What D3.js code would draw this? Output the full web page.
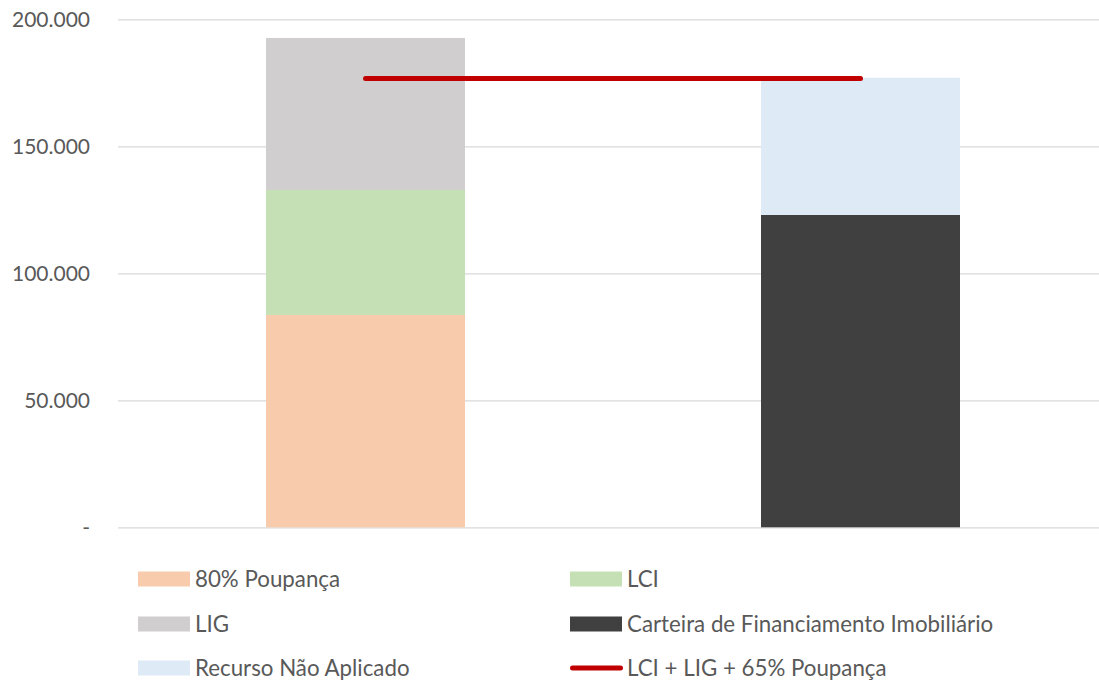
<!DOCTYPE html>
<html>
<head>
<meta charset="utf-8">
<script src="https://cdn.jsdelivr.net/npm/d3@7"></script>
<style>
  html, body { margin: 0; padding: 0; background: #fff; }
  svg { display: block; }
  text { font-family: Lato, "Open Sans", sans-serif; fill: #595959; }
</style>
</head>
<body>
<svg id="chart" width="1099" height="681"></svg>
<script>
// Categories (x axis, unlabeled groups)
const categories = ["Fontes", "Usos"];

// Stacked series, one value per category
const seriesNames = ["80% Poupança", "LCI", "LIG", "Carteira de Financiamento Imobiliário", "Recurso Não Aplicado"];
const poupanca80 = [83600, 0];
const lci        = [49200, 0];
const lig        = [59850, 0];
const carteira   = [0, 123000];
const naoAplicado = [0, 54000];

// Line series
const lineName = "LCI + LIG + 65% Poupança";
const lineValues = [176700, 176700];

// Y axis ticks
const yTicks = [0, 50000, 100000, 150000, 200000];

const colors = ["#f8cbad", "#c5e0b4", "#d0cece", "#404040", "#deebf7"];
const lineColor = "#c00000";

const svg = d3.select("#chart");

const plot = { left: 118, right: 1108, top: 19.3, bottom: 527.3 };

const x = d3.scaleBand()
  .domain(categories)
  .range([plot.left, plot.right])
  .paddingInner(0.598)
  .paddingOuter(0.299);

const y = d3.scaleLinear()
  .domain([0, 200000])
  .range([plot.bottom, plot.top]);

const locale = d3.formatLocale({ decimal: ",", thousands: ".", grouping: [3], currency: ["R$", ""] });
const fmt = locale.format(",.0f");

// Gridlines + tick labels
const yAxis = d3.axisLeft(y)
  .tickValues(yTicks)
  .tickSize(-(plot.right - plot.left))
  .tickPadding(28)
  .tickFormat(d => d === 0 ? "-" : fmt(d));

const gy = svg.append("g")
  .attr("transform", `translate(${plot.left},0)`)
  .call(yAxis);
gy.select(".domain").remove();
gy.selectAll(".tick line").attr("stroke", "#d9d9d9").attr("stroke-width", 1.3);
gy.selectAll(".tick text")
  .attr("fill", "#595959")
  .style("font-size", "21px");

// Stacked bars
const seriesData = [poupanca80, lci, lig, carteira, naoAplicado];
const rows = categories.map((c, i) => {
  const r = { category: c };
  seriesNames.forEach((s, k) => r[s] = seriesData[k][i]);
  return r;
});
const stack = d3.stack().keys(seriesNames)(rows);

svg.append("g").selectAll("g")
  .data(stack)
  .join("g")
  .attr("fill", (d, k) => colors[k])
  .selectAll("rect")
  .data(d => d.filter(p => p[1] - p[0] > 0))
  .join("rect")
  .attr("x", p => x(p.data.category))
  .attr("width", x.bandwidth())
  .attr("y", p => y(p[1]))
  .attr("height", p => y(p[0]) - y(p[1]));

// Line series
const line = d3.line()
  .x((d, i) => x(categories[i]) + x.bandwidth() / 2)
  .y(d => y(d));

svg.append("path")
  .datum(lineValues)
  .attr("d", line)
  .attr("fill", "none")
  .attr("stroke", lineColor)
  .attr("stroke-width", 5)
  .attr("stroke-linecap", "round");

// Legend: two columns, three rows
const legendItems = [
  { name: seriesNames[0], color: colors[0], type: "rect" },
  { name: seriesNames[1], color: colors[1], type: "rect" },
  { name: seriesNames[2], color: colors[2], type: "rect" },
  { name: seriesNames[3], color: colors[3], type: "rect" },
  { name: seriesNames[4], color: colors[4], type: "rect" },
  { name: lineName, color: lineColor, type: "line" }
];
const colX = [138, 570];
const rowY = [579, 624, 668];

const lg = svg.append("g").selectAll("g")
  .data(legendItems)
  .join("g")
  .attr("transform", (d, i) => `translate(${colX[i % 2]},${rowY[Math.floor(i / 2)]})`);

lg.filter(d => d.type === "rect").append("rect")
  .attr("x", 0).attr("y", -7.5)
  .attr("width", 52).attr("height", 15)
  .attr("fill", d => d.color);

lg.filter(d => d.type === "line").append("line")
  .attr("x1", 2.5).attr("x2", 50.5)
  .attr("y1", 0).attr("y2", 0)
  .attr("stroke", d => d.color)
  .attr("stroke-width", 5)
  .attr("stroke-linecap", "round");

lg.append("text")
  .attr("x", 57)
  .attr("y", 0)
  .attr("dy", "0.36em")
  .style("font-size", "22.3px")
  .text(d => d.name);
</script>
</body>
</html>
